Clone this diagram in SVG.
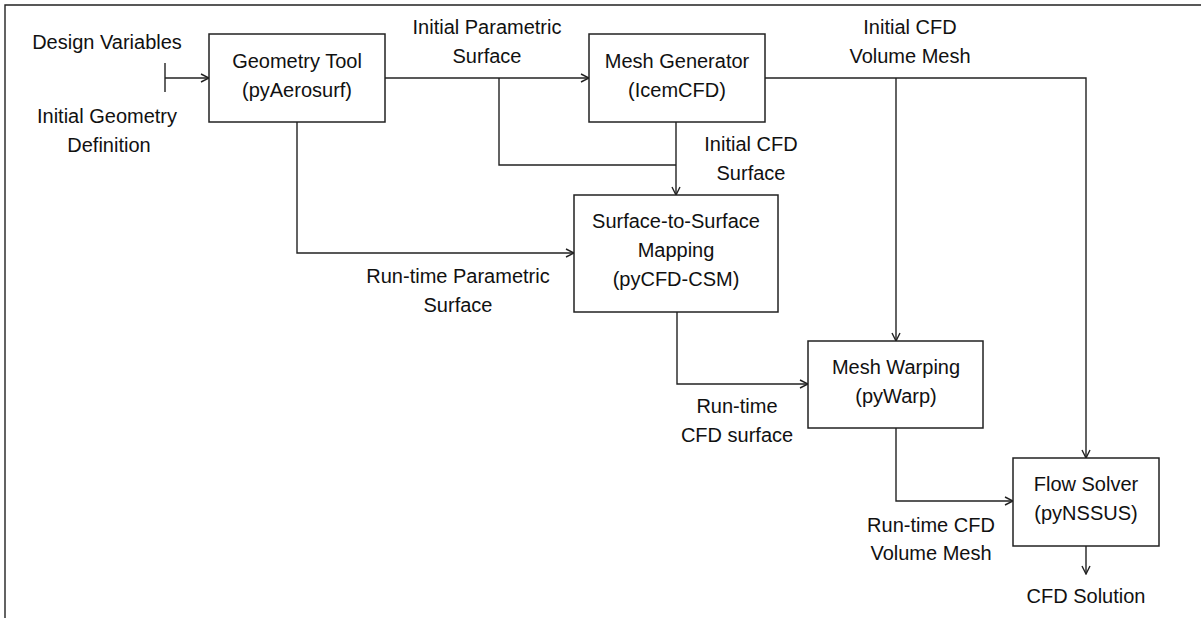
<svg xmlns="http://www.w3.org/2000/svg" width="1201" height="618" viewBox="0 0 1201 618">
<style>
.box{fill:#fff;stroke:#222;stroke-width:1.5}
.ln{fill:none;stroke:#222;stroke-width:1.4}
text{font-family:"Liberation Sans",Arial,sans-serif;font-size:20px;fill:#111;text-anchor:middle}
</style>
<defs>
<marker id="ah" viewBox="0 0 10 10" refX="9.5" refY="5" markerWidth="10" markerHeight="10" markerUnits="userSpaceOnUse" orient="auto">
<polyline points="1.5,1 9.5,5 1.5,9" fill="none" stroke="#222" stroke-width="1.4"/>
</marker>
</defs>
<rect width="1201" height="618" fill="#fff"/>
<g id="frame">
<path class="ln" d="M5,618 V5 H1201" stroke-width="1.6"/>
</g>
<g id="connectors">
<path class="ln" d="M165,63 V92"/>
<path class="ln" d="M165,78 H209" marker-end="url(#ah)"/>
<path class="ln" d="M385,78 H589" marker-end="url(#ah)"/>
<path class="ln" d="M499,78 V165 H676"/>
<path class="ln" d="M676,122 V195" marker-end="url(#ah)"/>
<path class="ln" d="M297,122 V253 H574" marker-end="url(#ah)"/>
<path class="ln" d="M765,78 H1086 V458" marker-end="url(#ah)"/>
<path class="ln" d="M896,78 V341" marker-end="url(#ah)"/>
<path class="ln" d="M677,312 V384 H808" marker-end="url(#ah)"/>
<path class="ln" d="M896,428 V501 H1013" marker-end="url(#ah)"/>
<path class="ln" d="M1086,546 V574" marker-end="url(#ah)"/>
</g>
<g id="geometry-tool">
<rect class="box" x="209" y="34" width="176" height="88"/>
<text x="297" y="68">Geometry Tool</text>
<text x="297" y="97">(pyAerosurf)</text>
</g>
<g id="mesh-generator">
<rect class="box" x="589" y="34" width="176" height="88"/>
<text x="677" y="68">Mesh Generator</text>
<text x="677" y="97">(IcemCFD)</text>
</g>
<g id="surface-mapping">
<rect class="box" x="574" y="195" width="204" height="117"/>
<text x="676" y="228">Surface-to-Surface</text>
<text x="676" y="257">Mapping</text>
<text x="676" y="286">(pyCFD-CSM)</text>
</g>
<g id="mesh-warping">
<rect class="box" x="808" y="341" width="175" height="87"/>
<text x="896" y="374">Mesh Warping</text>
<text x="896" y="403">(pyWarp)</text>
</g>
<g id="flow-solver">
<rect class="box" x="1013" y="458" width="146" height="88"/>
<text x="1086" y="491">Flow Solver</text>
<text x="1086" y="520">(pyNSSUS)</text>
</g>
<g id="labels">
<text x="107" y="49">Design Variables</text>
<text x="107" y="123">Initial Geometry</text>
<text x="109" y="152">Definition</text>
<text x="487" y="34">Initial Parametric</text>
<text x="487" y="63">Surface</text>
<text x="751" y="151">Initial CFD</text>
<text x="751" y="180">Surface</text>
<text x="910" y="34">Initial CFD</text>
<text x="910" y="63">Volume Mesh</text>
<text x="458" y="283">Run-time Parametric</text>
<text x="458" y="312">Surface</text>
<text x="737" y="413">Run-time</text>
<text x="737" y="442">CFD surface</text>
<text x="931" y="532">Run-time CFD</text>
<text x="931" y="560">Volume Mesh</text>
<text x="1086" y="603">CFD Solution</text>
</g>
</svg>
